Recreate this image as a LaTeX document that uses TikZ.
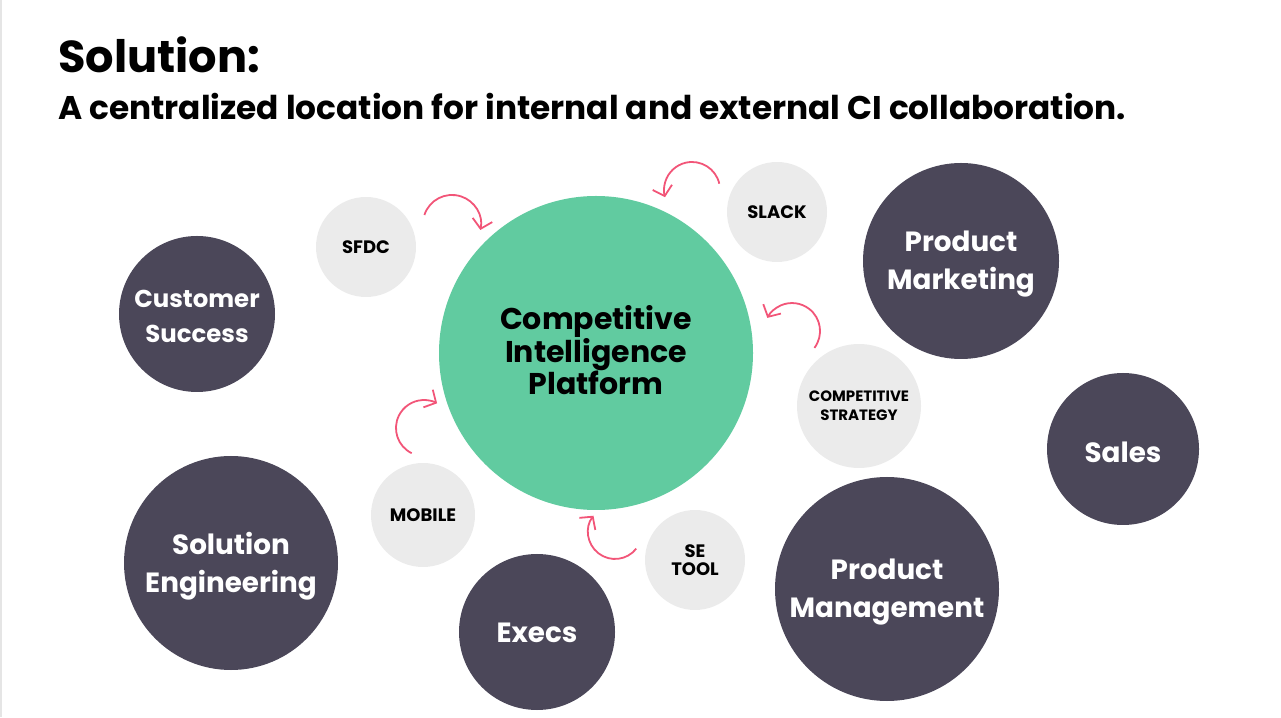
\documentclass[tikz,border=0pt]{standalone}
\usepackage{fontspec}
\setmainfont{Poppins}
\usetikzlibrary{arrows.meta}

\definecolor{cigreen}{RGB}{97,203,160}
\definecolor{teamgray}{RGB}{75,71,89}
\definecolor{toolgray}{RGB}{235,235,235}
\definecolor{arcpink}{RGB}{242,85,120}

\begin{document}
\begin{tikzpicture}[x=1pt,y=1pt,
    hub/.style={circle,inner sep=0pt,fill=cigreen,minimum size=314pt},
    hubtext/.style={align=center,yshift=3pt,font=\fontsize{30}{31.5}\selectfont\bfseries},
    team/.style={circle,inner sep=0pt,fill=teamgray,minimum size=#1},
    teamtext/.style={text=white,align=center,yshift=-3pt,font=\fontsize{27.8}{38.5}\selectfont\bfseries},
    tool/.style={circle,inner sep=0pt,fill=toolgray,align=center,
        font=\fontsize{18}{18}\selectfont\bfseries},
    pinkarc/.style={->,>={Straight Barb[length=9pt,width=20pt]},draw=arcpink,line width=1.8pt}]
        \useasboundingbox (0,0) rectangle (1281,717);
        \fill[black!10] (0,0) rectangle (1.5,717);
        % titolo
        \node[anchor=base west,inner sep=0pt,font=\fontsize{44.7}{44.7}\selectfont\bfseries] (title) at (58,644) {Solution:};
        \node[anchor=base west,inner sep=0pt,font=\fontsize{32.8}{32.8}\selectfont\bfseries] (subtitle) at (58,597)
            {A centralized location for internal and external CI collaboration.};
        % cerchi
        \node[hub,label={[hubtext]center:Competitive\\Intelligence\\Platform}] (cip) at (596,364) {};
        \node[tool,minimum size=100pt] (sfdc) at (366,470) {SFDC};
        \node[tool,minimum size=100pt] (slack) at (777,505) {SLACK};
        \node[tool,minimum size=124pt,font=\fontsize{15}{19}\selectfont\bfseries] (strat) at (859,311) {COMPETITIVE\\STRATEGY};
        \node[tool,minimum size=104pt] (mobile) at (423,202) {MOBILE};
        \node[tool,minimum size=100pt] (setool) at (695,157) {SE\\TOOL};
        \node[team=196pt,label={[teamtext]center:Product\\Marketing}] (pmkt) at (961,456) {};
        \node[team=156pt,label={[teamtext,yshift=1pt,font=\fontsize{24.4}{35}\selectfont\bfseries]center:Customer\\Success}] (cs) at (197,403) {};
        \node[team=152pt,label={[teamtext]center:Sales}] (sales) at (1123,268) {};
        \node[team=214pt,label={[teamtext]center:Solution\\Engineering}] (soleng) at (231,154) {};
        \node[team=156pt,label={[teamtext,yshift=2pt]center:Execs}] (execs) at (537,85) {};
        \node[team=224pt,label={[teamtext]center:Product\\Management}] (pmgmt) at (887,128) {};
        % frecce
        \coordinate (a1) at (424.4,502);
        \coordinate (a2) at (719.3,533.3);
        \coordinate (a3) at (814.4,369.1);
        \coordinate (a4) at (411.7,263.8);
        \coordinate (a5) at (636.3,168.4);
        \draw[pinkarc] (a1) arc[start angle=162,end angle=-12,radius=29];
        \draw[pinkarc] (a2) arc[start angle=13,end angle=195,radius=28];
        \draw[pinkarc] (a3) arc[start angle=-37,end angle=152,radius=28];
        \draw[pinkarc] (a4) arc[start angle=244,end angle=62,radius=28];
        \draw[pinkarc] (a5) arc[start angle=-38,end angle=-217,radius=27];
\end{tikzpicture}
\end{document}
